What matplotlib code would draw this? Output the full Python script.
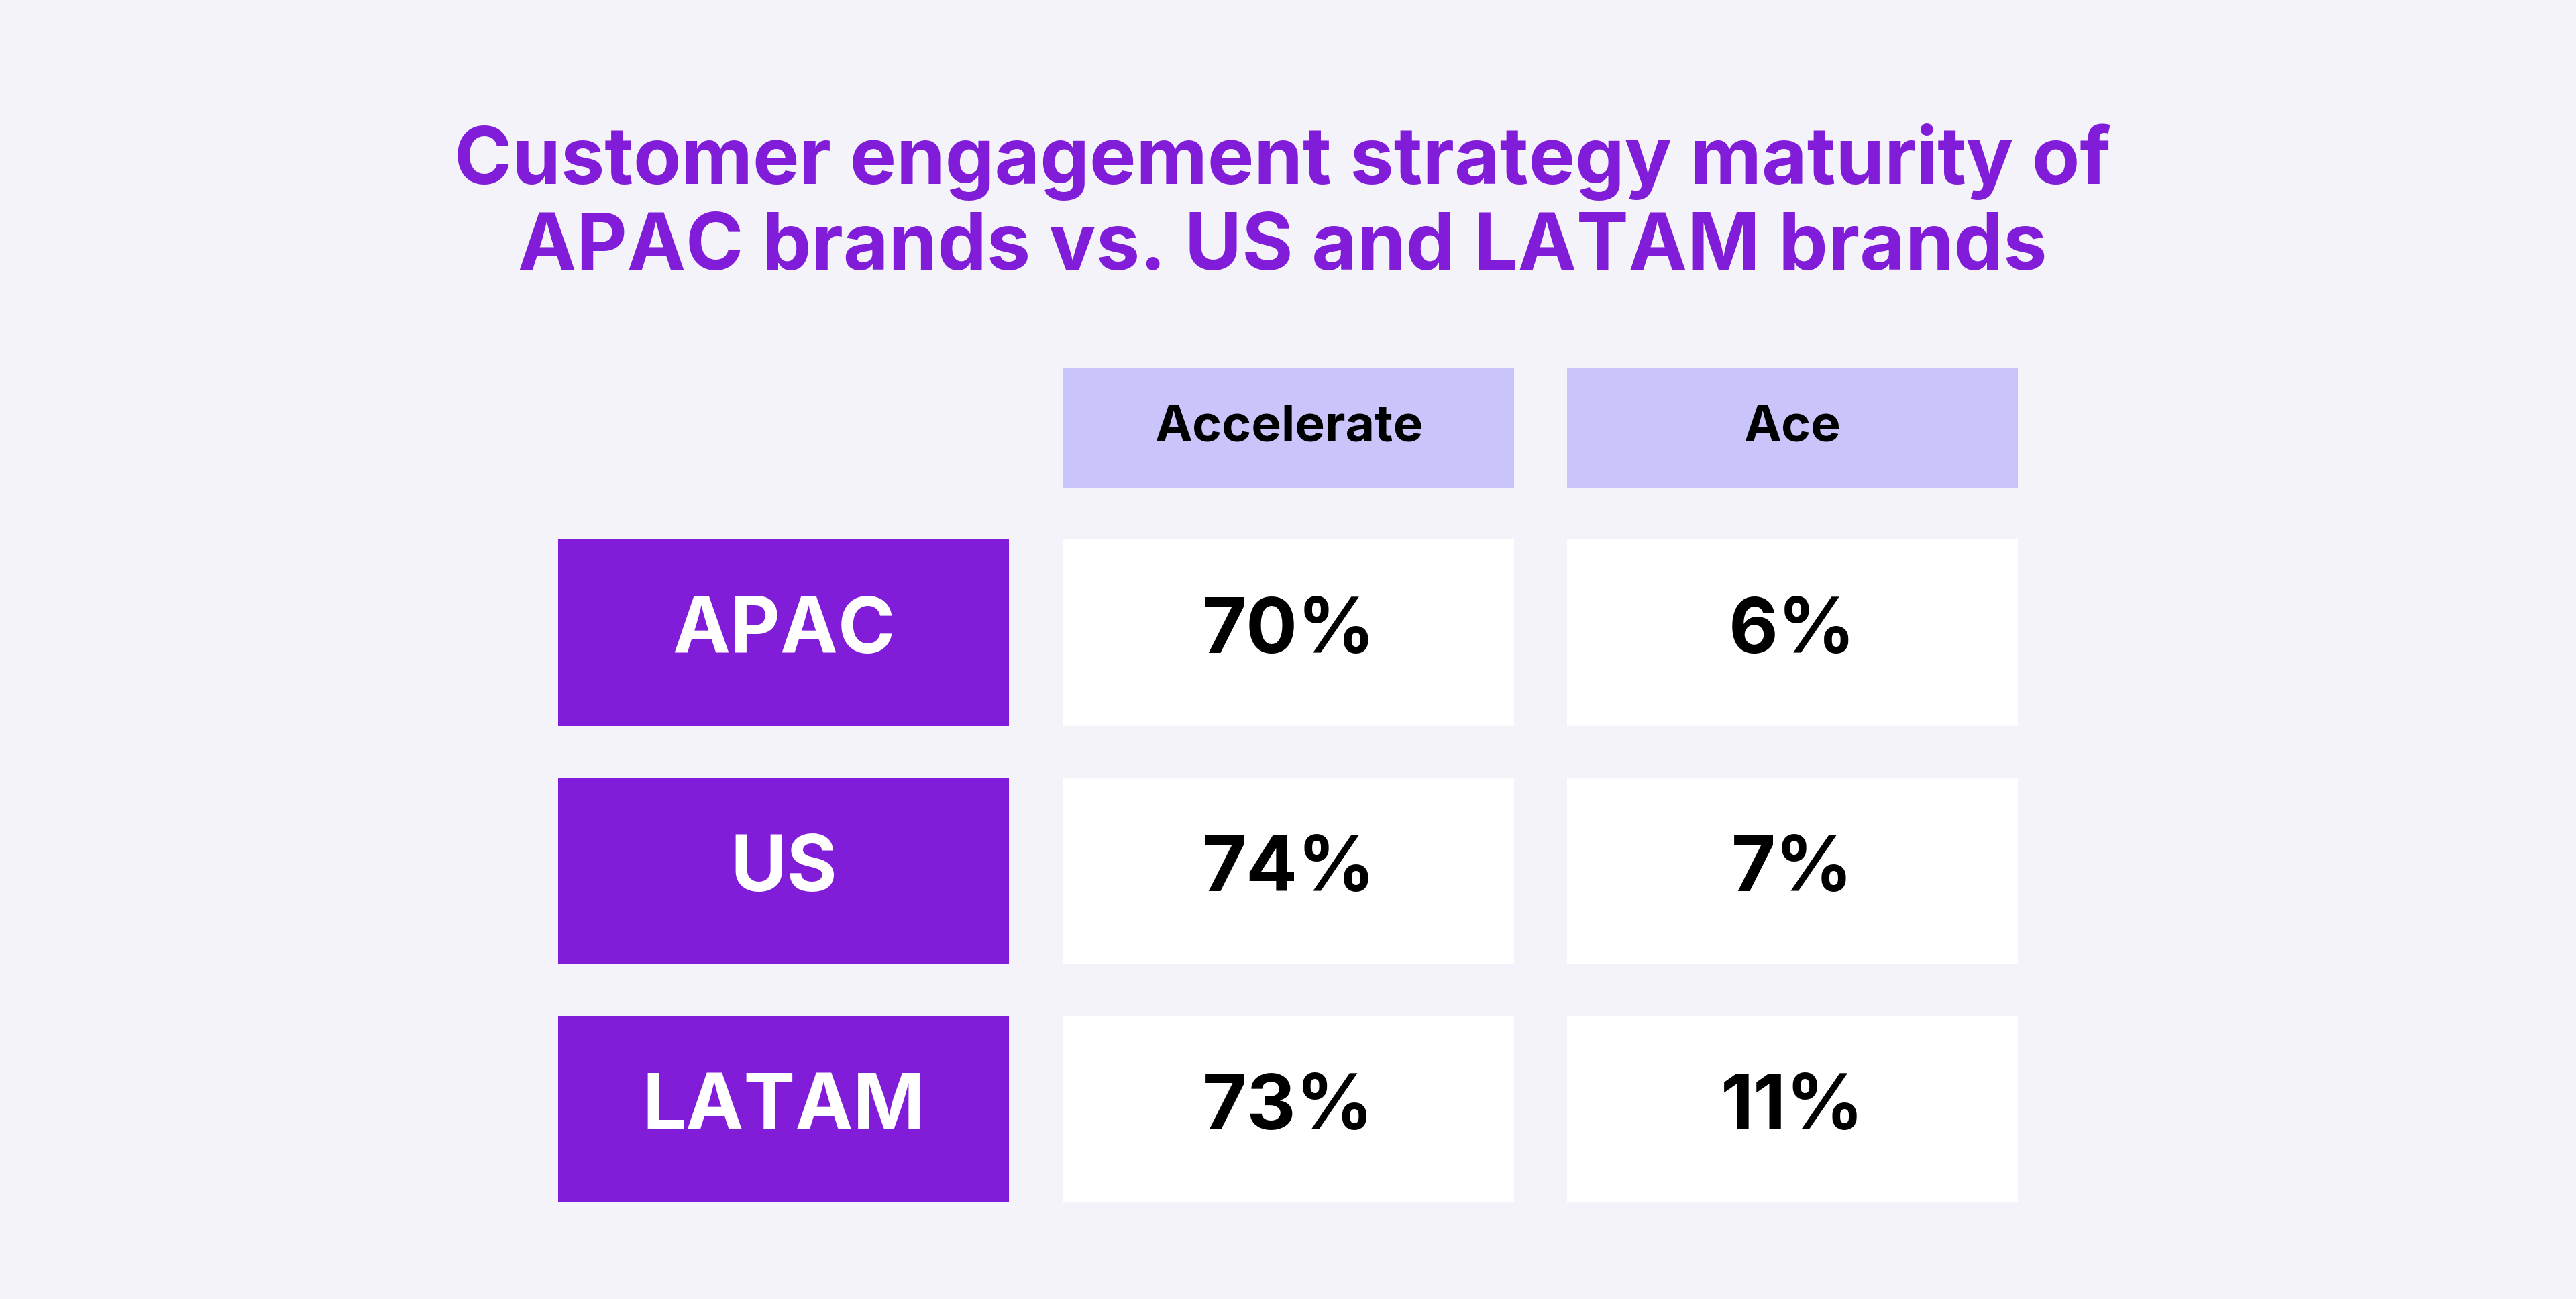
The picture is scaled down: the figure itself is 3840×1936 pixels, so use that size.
import matplotlib.pyplot as plt
from matplotlib.patches import Rectangle

# data
regions = ['APAC', 'US', 'LATAM']
stages = ['Accelerate', 'Ace']
accelerate = [70, 74, 73]
ace = [6, 7, 11]
title = 'Customer engagement strategy maturity of\nAPAC brands vs. US and LATAM brands'

bg = '#f4f3f9'
purple = '#811cd8'
lavender = '#c9c4f9'

plt.rcParams['font.family'] = ['Inter', 'DejaVu Sans']

fig = plt.figure(figsize=(38.4, 19.36), dpi=100, facecolor=bg)
ax = fig.add_axes([0, 0, 1, 1])
ax.set_xlim(0, 3840)
ax.set_ylim(1936, 0)
ax.axis('off')

# layout (pixels)
cell_w = 672
col_x = [832, 1585, 2336]
head_y, head_h = 548, 180
row_y0, row_h, row_step = 804, 278, 355

# baseline of the last title line
ax.text(1912, 402, title, ha='center', va='baseline', fontsize=84,
        fontweight='bold', color=purple, linespacing=1.2)

# header
for j, s in enumerate(stages):
    x = col_x[j + 1]
    ax.add_patch(Rectangle((x, head_y), cell_w, head_h, color=lavender, lw=0))
    ax.text(x + cell_w / 2, head_y + head_h / 2, s, ha='center', va='center',
            fontsize=54, fontweight='bold', color='black')

# rows
for i, r in enumerate(regions):
    y = row_y0 + i * row_step
    ax.add_patch(Rectangle((col_x[0], y), cell_w, row_h, color=purple, lw=0))
    ax.text(col_x[0] + cell_w / 2, y + row_h / 2, r, ha='center', va='center',
            fontsize=83, fontweight='bold', color='white')
    for j, vals in enumerate([accelerate, ace]):
        x = col_x[j + 1]
        ax.add_patch(Rectangle((x, y), cell_w, row_h, color='white', lw=0))
        ax.text(x + cell_w / 2, y + row_h / 2, f'{vals[i]}%', ha='center',
                va='center', fontsize=82, fontweight='bold', color='black')

fig.savefig('out.png', dpi=100, facecolor=bg)
